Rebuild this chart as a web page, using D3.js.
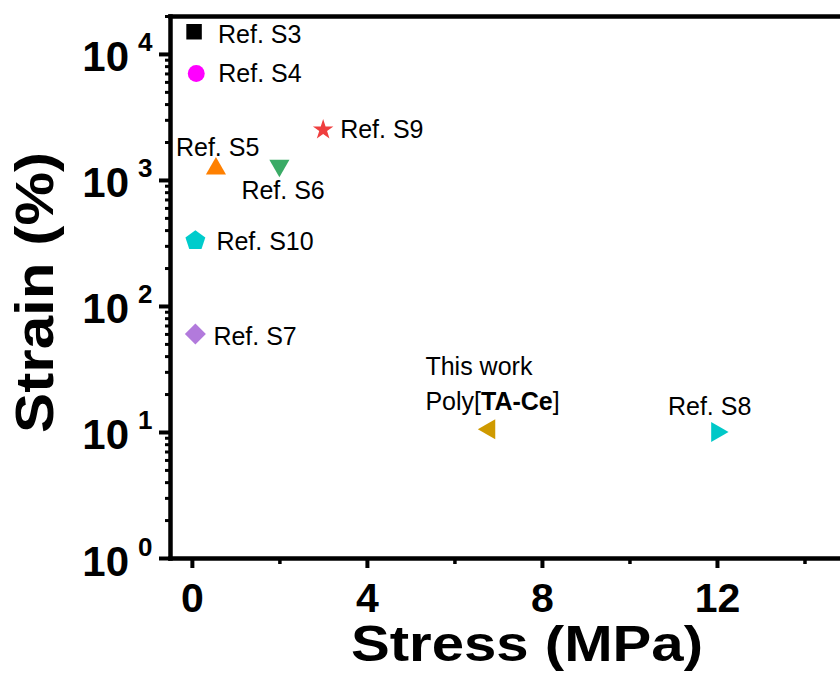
<!DOCTYPE html>
<html>
<head>
<meta charset="utf-8">
<script src="https://cdn.jsdelivr.net/npm/d3@7"></script>
<style>
  html, body { margin: 0; padding: 0; background: #fff; }
  svg { display: block; font-family: Arial, "Liberation Sans", Helvetica, sans-serif; }
</style>
</head>
<body>
<svg id="chart" width="840" height="676"></svg>
<script>
// Stress–strain comparison of reported materials (log strain axis)
const names   = ["Ref. S3", "Ref. S4", "Ref. S9", "Ref. S5", "Ref. S6", "Ref. S10", "Ref. S7", "This work", "Ref. S8"];
const stress  = [0.05, 0.1, 3.0, 0.55, 2.0, 0.08, 0.08, 6.8, 12.0];      // MPa
const strain  = [15000, 7000, 2500, 1230, 1300, 330, 60, 10.5, 10];      // %
const shapes  = ["square", "circle", "star", "triUp", "triDown", "pentagon", "diamond", "triLeft", "triRight"];
const colors  = ["#000000", "#ff00ff", "#ef3e3e", "#ff8000", "#3aab66", "#00cccc", "#b27adc", "#cf9a00", "#00c8c8"];

const xMajor = [0, 4, 8, 12];
const xMinor = [2, 6, 10, 14];
const yMajor = [1, 10, 100, 1000, 10000];

// label placement relative to each marker (dx, dy)
const labelOffsets = [[24, 11], [22, 9], [17, 8], [-40, -13], [-38, 33], [21, 9], [18, 11], [-64, -54], [-49, -17]];

const svg = d3.select("#chart");
const plotLeft = 170, plotRight = 892, plotTop = 16, plotBottom = 558;

const x = d3.scaleLinear().domain([-0.5, 16]).range([plotLeft, plotRight]);
const y = d3.scaleLog().domain([1, 20000]).range([plotBottom, plotTop]);

// minor log ticks 2..9 per decade
const yMinor = [];
for (let d = 1; d < 20000; d *= 10) {
  for (let k = 2; k <= 9; k++) if (d * k <= 20000) yMinor.push(d * k);
}

// custom pentagon symbol
const symbolPentagon = {
  draw(ctx, size) {
    const r = Math.sqrt(size / (2.5 * Math.sin(2 * Math.PI / 5)));
    for (let k = 0; k < 5; k++) {
      const a = -Math.PI / 2 + k * 2 * Math.PI / 5;
      const px = r * Math.cos(a), py = r * Math.sin(a);
      if (k === 0) ctx.moveTo(px, py); else ctx.lineTo(px, py);
    }
    ctx.closePath();
  }
};

const symbolDefs = {
  square:   { type: d3.symbolSquare,   size: 240, rot: 0 },
  circle:   { type: d3.symbolCircle,   size: 225, rot: 0 },
  star:     { type: d3.symbolStar,     size: 130, rot: 0 },
  triUp:    { type: d3.symbolTriangle, size: 175, rot: 0 },
  triDown:  { type: d3.symbolTriangle, size: 175, rot: 180 },
  pentagon: { type: symbolPentagon,    size: 260, rot: 0 },
  diamond:  { type: d3.symbolSquare,   size: 220, rot: 45 },
  triLeft:  { type: d3.symbolTriangle, size: 175, rot: -90 },
  triRight: { type: d3.symbolTriangle, size: 175, rot: 90 }
};

// ---- axes ----
const axisStyle = g => {
  g.select(".domain").attr("stroke", "#000").attr("stroke-width", 4.5).attr("stroke-linecap", "square");
  g.selectAll(".tick line").attr("stroke", "#000");
};

// x minor ticks
svg.append("g")
  .attr("transform", `translate(0,${plotBottom})`)
  .call(d3.axisBottom(x).tickValues(xMinor).tickSize(6).tickSizeOuter(0).tickFormat(""))
  .call(g => g.select(".domain").remove())
  .call(g => g.selectAll(".tick line").attr("stroke", "#000").attr("stroke-width", 3.5));

// x major ticks + labels
svg.append("g")
  .attr("transform", `translate(0,${plotBottom})`)
  .call(d3.axisBottom(x).tickValues(xMajor).tickSize(10).tickSizeOuter(0).tickFormat(d3.format("d")))
  .call(axisStyle)
  .call(g => g.selectAll(".tick line").attr("stroke-width", 4))
  .call(g => g.selectAll(".tick text")
    .attr("y", 25).attr("dy", "0.71em")
    .attr("font-size", 41).attr("font-weight", "bold").attr("fill", "#000")
    .attr("font-family", "Arial, 'Liberation Sans', sans-serif"));

// y minor ticks
svg.append("g")
  .attr("transform", `translate(${plotLeft},0)`)
  .call(d3.axisLeft(y).tickValues(yMinor).tickSize(5).tickSizeOuter(0).tickFormat(""))
  .call(g => g.select(".domain").remove())
  .call(g => g.selectAll(".tick line").attr("stroke", "#000").attr("stroke-width", 3));

// y major ticks, labels as 10^n
const yAxisG = svg.append("g")
  .attr("transform", `translate(${plotLeft},0)`)
  .call(d3.axisLeft(y).tickValues(yMajor).tickSize(11).tickSizeOuter(0).tickFormat(""))
  .call(axisStyle)
  .call(g => g.selectAll(".tick line").attr("stroke-width", 4));

yAxisG.selectAll(".tick").each(function(d) {
  const t = d3.select(this);
  t.select("text").remove();
  t.append("text")
    .attr("x", -41).attr("y", 17)
    .attr("text-anchor", "end")
    .attr("font-size", 42).attr("font-weight", "bold").attr("fill", "#000")
    .text("10");
  t.append("text")
    .attr("x", -32).attr("y", -3)
    .attr("text-anchor", "start")
    .attr("font-size", 26).attr("font-weight", "bold").attr("fill", "#000")
    .text(Math.round(Math.log10(d)));
});

// top frame line
svg.append("g")
  .attr("transform", `translate(0,${plotTop})`)
  .call(d3.axisTop(x).tickValues([]).tickSizeOuter(0))
  .call(axisStyle);

// ---- axis titles ----
svg.append("text")
  .attr("x", 351).attr("y", 661)
  .attr("font-size", 50).attr("font-weight", "bold").attr("fill", "#000")
  .attr("textLength", 352).attr("lengthAdjust", "spacingAndGlyphs")
  .text("Stress (MPa)");

svg.append("text")
  .attr("transform", "translate(53,433) rotate(-90)")
  .attr("font-size", 53).attr("font-weight", "bold").attr("fill", "#000")
  .attr("textLength", 281).attr("lengthAdjust", "spacingAndGlyphs")
  .text("Strain (%)");

// ---- points ----
const pts = names.map((n, i) => ({ name: n, sx: stress[i], sy: strain[i], shape: shapes[i], color: colors[i], off: labelOffsets[i] }));

svg.append("g").selectAll("path")
  .data(pts)
  .join("path")
  .attr("d", d => d3.symbol().type(symbolDefs[d.shape].type).size(symbolDefs[d.shape].size)())
  .attr("transform", d => `translate(${x(d.sx)},${y(d.sy)}) rotate(${symbolDefs[d.shape].rot})`)
  .attr("fill", d => d.color);

// ---- labels ----
const lab = svg.append("g").attr("font-size", 25).attr("fill", "#000");
pts.forEach(d => {
  const px = x(d.sx) + d.off[0], py = y(d.sy) + d.off[1];
  if (d.name === "This work") {
    lab.append("text").attr("x", px).attr("y", py).text("This work");
    const t = lab.append("text").attr("x", px).attr("y", py + 35);
    t.append("tspan").text("Poly[");
    t.append("tspan").attr("font-weight", "bold").text("TA-Ce");
    t.append("tspan").text("]");
  } else {
    lab.append("text").attr("x", px).attr("y", py).text(d.name);
  }
});
</script>
</body>
</html>
